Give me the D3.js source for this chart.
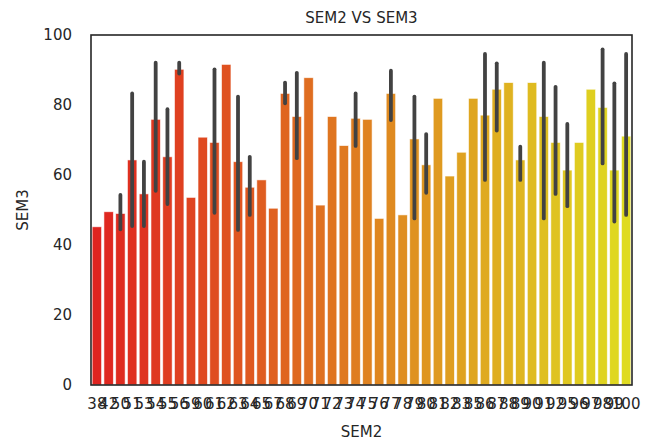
<!DOCTYPE html>
<html>
<head>
<meta charset="utf-8">
<script src="https://cdn.jsdelivr.net/npm/d3@7"></script>
<style>
  body { margin: 0; background: #fff; }
  text { font-family: "DejaVu Sans", sans-serif; fill: #262626; }
</style>
</head>
<body>
<div id="container"></div>
<script>
/* CONSTANTS AND GLOBALS */
const width = 651,
    height = 446,
    margin = { top: 35, right: 19, bottom: 61, left: 91 };

/* DATA */
const sem2 = ["38", "42", "50", "51", "53", "54", "55", "56", "59", "60", "61", "62", "63", "64", "65", "67",
    "68", "69", "70", "71", "72", "73", "74", "75", "76", "77", "78", "79", "80", "81", "82", "83",
    "85", "86", "87", "88", "89", "90", "91", "92", "95", "96", "97", "98", "99", "100"];

const sem3Mean = [45.2, 49.5, 49.0, 64.3, 54.6, 75.9, 65.2, 90.2, 53.6, 70.8, 69.3, 91.6, 63.8, 56.5, 58.6, 50.5,
    83.3, 76.7, 87.8, 51.4, 76.7, 68.4, 76.2, 75.9, 47.6, 83.3, 48.6, 70.3, 62.9, 81.9, 59.7, 66.5,
    81.9, 77.1, 84.5, 86.4, 64.3, 86.4, 76.7, 69.3, 61.4, 69.3, 84.5, 79.3, 61.4, 71.1];

// confidence interval (null = single student, no error bar)
const ciLow = [null, null, 44.5, 45.4, 45.4, 55.5, 51.7, 89.0, null, null, 49.2, null, 44.3, 48.6, null, null,
    80.5, 64.8, null, null, null, null, 68.3, null, null, 75.7, null, 47.6, 54.9, null, null, null,
    null, 58.6, 72.7, null, 58.6, null, 47.6, 54.6, 51.1, null, null, 63.3, 46.7, 48.6];
const ciHigh = [null, null, 54.3, 83.3, 63.8, 92.1, 78.8, 92.1, null, null, 90.2, null, 82.4, 65.2, null, null,
    86.4, 89.2, null, null, null, null, 83.3, null, null, 89.8, null, 82.4, 71.7, null, null, null,
    null, 94.6, 91.9, null, 68.1, null, 92.1, 85.2, 74.6, null, null, 95.9, 86.2, 94.6];

const yTicks = [0, 20, 40, 60, 80, 100];

const dataset = sem2.map((s, i) => ({ sem2: s, mean: sem3Mean[i], lo: ciLow[i], hi: ciHigh[i] }));

const svg = d3.select("#container")
    .append("svg")
    .attr("width", width)
    .attr("height", height)
    .style("background-color", "white");

// SCALES
const xScale = d3.scaleBand()
    .domain(sem2)
    .range([margin.left, width - margin.right])
    .paddingInner(0.2)
    .paddingOuter(0.1);

const yScale = d3.scaleLinear()
    .domain([0, 100])
    .range([height - margin.bottom, margin.top]);

// autumn palette, desaturated like seaborn does
const colorScale = (i) => d3.hsl(60 * (i + 1) / (sem2.length + 1), 0.75, 0.5).toString();

// BARS
svg.selectAll("rect.bar")
    .data(dataset)
    .join("rect")
    .attr("class", "bar")
    .attr("x", d => xScale(d.sem2))
    .attr("width", xScale.bandwidth())
    .attr("y", d => yScale(d.mean))
    .attr("height", d => yScale(0) - yScale(d.mean))
    .attr("fill", (d, i) => colorScale(i))
    .attr("stroke", "white")
    .attr("stroke-opacity", 0.7)
    .attr("stroke-width", 0.8);

// ERROR BARS
svg.selectAll("line.err")
    .data(dataset.filter(d => d.lo !== null))
    .join("line")
    .attr("class", "err")
    .attr("x1", d => xScale(d.sem2) + xScale.bandwidth() / 2)
    .attr("x2", d => xScale(d.sem2) + xScale.bandwidth() / 2)
    .attr("y1", d => yScale(d.lo))
    .attr("y2", d => yScale(d.hi))
    .attr("stroke", "#424242")
    .attr("stroke-width", 3.8)
    .attr("stroke-linecap", "round");

// AXES
const xAxis = d3.axisBottom(xScale).tickSize(0).tickPadding(13);
const yAxis = d3.axisLeft(yScale).tickValues(yTicks).tickSize(0).tickPadding(19);

svg.append("g")
    .attr("transform", "translate(0," + (height - margin.bottom) + ")")
    .call(xAxis)
    .call(g => g.select(".domain").remove())
    .selectAll("text")
    .style("font-size", "15px")
    .attr("fill", "#262626");

svg.append("g")
    .attr("transform", "translate(" + margin.left + ",0)")
    .call(yAxis)
    .call(g => g.select(".domain").remove())
    .selectAll("text")
    .style("font-size", "15px")
    .attr("fill", "#262626");

// FRAME
svg.append("rect")
    .attr("x", margin.left)
    .attr("y", margin.top)
    .attr("width", width - margin.left - margin.right)
    .attr("height", height - margin.top - margin.bottom)
    .attr("fill", "none")
    .attr("stroke", "#262626")
    .attr("stroke-width", 1.6);

// LABELS
svg.append("text")
    .attr("x", (margin.left + width - margin.right) / 2)
    .attr("y", 23)
    .attr("text-anchor", "middle")
    .style("font-size", "15px")
    .text("SEM2 VS SEM3");

svg.append("text")
    .attr("x", (margin.left + width - margin.right) / 2)
    .attr("y", 437)
    .attr("text-anchor", "middle")
    .style("font-size", "15px")
    .text("SEM2");

svg.append("text")
    .attr("transform", "rotate(-90)")
    .attr("x", -(margin.top + height - margin.bottom) / 2)
    .attr("y", 28)
    .attr("text-anchor", "middle")
    .style("font-size", "15px")
    .text("SEM3");
</script>
</body>
</html>
